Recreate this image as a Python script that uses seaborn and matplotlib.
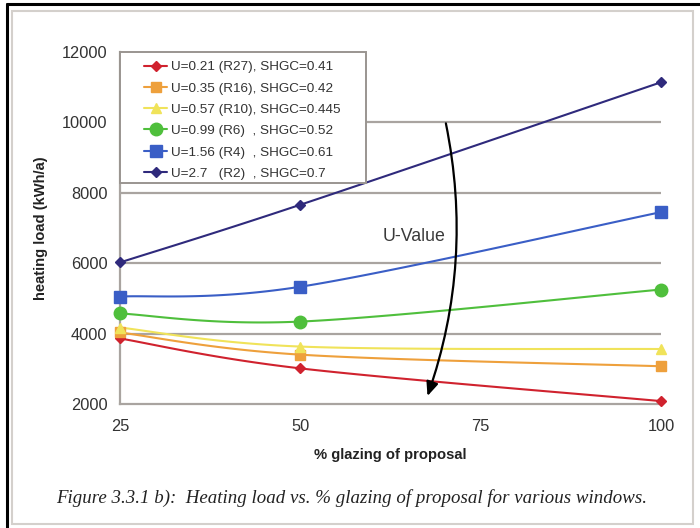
import numpy as np
import pandas as pd
import matplotlib
matplotlib.use("Agg")
import matplotlib.pyplot as plt
from matplotlib.lines import Line2D
from matplotlib.patches import Rectangle
import seaborn as sns

sns.set_theme(style="white")
plt.rcParams["font.family"] = ["Liberation Sans", "DejaVu Sans"]

# Glazing share of the proposal (%)
glazing = [25, 50, 100]

# Window types and their annual heating load (kWh/a)
labels = [
    "U=0.21 (R27), SHGC=0.41",
    "U=0.35 (R16), SHGC=0.42",
    "U=0.57 (R10), SHGC=0.445",
    "U=0.99 (R6)  , SHGC=0.52",
    "U=1.56 (R4)  , SHGC=0.61",
    "U=2.7   (R2)  , SHGC=0.7",
]
load_r27 = [3860, 3010, 2080]
load_r16 = [4030, 3400, 3070]
load_r10 = [4170, 3630, 3560]
load_r6 = [4570, 4340, 5250]
load_r4 = [5050, 5330, 7450]
load_r2 = [6020, 7660, 11140]
loads = [load_r27, load_r16, load_r10, load_r6, load_r4, load_r2]

colors = ["#d0222e", "#eea03c", "#f0e35a", "#4fbf3c", "#3a5ec6", "#2f2a7c"]
markers = ["D", "s", "^", "o", "s", "D"]
msizes = [5, 7, 7, 9, 8, 5]

y_ticks = [2000, 4000, 6000, 8000, 10000, 12000]
x_ticks = [25, 50, 75, 100]


def smooth(xs, ys, n=60):
    """Cubic Bezier smoothing through the points (spreadsheet-style curve)."""
    P = np.column_stack([xs, ys]).astype(float)
    out = []
    for i in range(len(P) - 1):
        p0 = P[i - 1] if i > 0 else P[i]
        p1, p2 = P[i], P[i + 1]
        p3 = P[i + 2] if i + 2 < len(P) else P[i + 1]
        c1 = p1 + (p2 - p0) / 6.0
        c2 = p2 - (p3 - p1) / 6.0
        t = np.linspace(0, 1, n)[:, None]
        seg = ((1 - t) ** 3) * p1 + 3 * ((1 - t) ** 2) * t * c1 + 3 * (1 - t) * t ** 2 * c2 + t ** 3 * p2
        out.append(seg if i == 0 else seg[1:])
    pts = np.vstack(out)
    return pts[:, 0], pts[:, 1]


fig = plt.figure(figsize=(7.0, 5.28), dpi=100)

# page frame: black edge top/left, light grey panel border
fig.add_artist(Line2D([0.0105, 0.0105], [0, 0.992], transform=fig.transFigure, color="black", lw=2.2))
fig.add_artist(Line2D([0.0105, 1.0], [0.992, 0.992], transform=fig.transFigure, color="black", lw=2.2))
fig.add_artist(Rectangle((0.0175, 0.008), 0.973, 0.972, transform=fig.transFigure,
                         fill=False, edgecolor="#d4d0cc", lw=1.5))

ax = fig.add_axes([0.1714, 0.2350, 0.7729, 0.6665])

for lab, vals, c, m, ms in zip(labels, loads, colors, markers, msizes):
    sx, sy = smooth(glazing, vals)
    sns.lineplot(x=sx, y=sy, ax=ax, color=c, lw=1.5, sort=False, estimator=None, zorder=3)
    ax.plot(glazing, vals, linestyle="none", marker=m, markersize=ms, color=c,
            markeredgecolor=c, zorder=4, clip_on=False)

ax.set_xlim(25, 100)
ax.set_ylim(2000, 12000)
ax.set_xticks(x_ticks)
ax.set_yticks(y_ticks)
ax.set_xticklabels([str(v) for v in x_ticks])
ax.set_yticklabels([str(v) for v in y_ticks])

grid_c = "#a9a4a0"
for v in y_ticks[1:-1]:
    ax.axhline(v, color=grid_c, lw=1.6, zorder=1)

for side in ["top", "right"]:
    ax.spines[side].set_visible(False)
for side in ["left", "bottom"]:
    ax.spines[side].set_color(grid_c)
    ax.spines[side].set_linewidth(1.6)

ax.tick_params(axis="both", direction="out", length=5, width=1.2, color=grid_c,
               labelsize=11.8, labelcolor="#333333", pad=4)
ax.tick_params(axis="x", pad=6)

ax.set_xlabel("% glazing of proposal", fontsize=10.6, fontweight="bold", color="#222222", labelpad=10)
ax.set_ylabel("heating load (kWh/a)", fontsize=10.6, fontweight="bold", color="#222222", labelpad=10)

# legend box drawn as its own frame, entries placed inside it
ax.add_patch(Rectangle((0.0, 0.628), 0.455, 0.372, transform=ax.transAxes, facecolor="white",
                       edgecolor="#9a9590", lw=1.4, zorder=5, clip_on=False))
handles = [Line2D([0], [0], color=c, lw=1.5, marker=m, markersize=ms, markeredgecolor=c)
           for c, m, ms in zip(colors, markers, msizes)]
leg = ax.legend(handles, labels, loc="upper left", bbox_to_anchor=(0.044, 0.975),
                frameon=False, fontsize=9.7, handlelength=1.75,
                handletextpad=0.3, labelspacing=0.66, borderpad=0.0, borderaxespad=0.0)
leg.set_zorder(6)
for t in leg.get_texts():
    t.set_color("#333333")

# curved arrow indicating increasing U-value
ax.annotate("", xy=(67.5, 2150), xytext=(70.1, 10050),
            arrowprops=dict(arrowstyle="-|>,head_length=0.7,head_width=0.3", color="black",
                            lw=1.6, connectionstyle="arc3,rad=-0.14"), zorder=6)
ax.text(65.8, 6750, "U-Value", fontsize=12.8, color="#3a3a3a", ha="center", va="center", zorder=6)

fig.text(0.503, 0.057, "Figure 3.3.1 b):  Heating load vs. % glazing of proposal for various windows.",
         family=["Liberation Serif", "DejaVu Serif"], style="italic", fontsize=13.6,
         color="#222222", ha="center", va="center")

fig.savefig("out.png", dpi=100)
